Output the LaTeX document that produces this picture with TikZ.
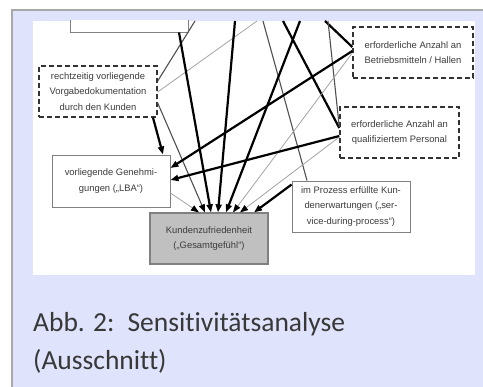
\documentclass[tikz,border=0pt]{standalone}
\usepackage{fontspec}
\setmainfont{Carlito}[Ligatures={NoCommon}]
\newfontfamily\arialf{Liberation Sans}
\usetikzlibrary{arrows.meta}
\definecolor{lav}{HTML}{DFE3FB}
\definecolor{framegray}{HTML}{A8A8A8}
\definecolor{bordergray}{HTML}{808080}
\definecolor{dashcol}{HTML}{333333}
\definecolor{keygray}{HTML}{C0C0C0}
\definecolor{txt}{HTML}{3C3C3C}
\definecolor{captxt}{HTML}{383838}
\definecolor{midgray}{HTML}{505050}
\definecolor{lightgray2}{HTML}{A4A4A4}
\begin{document}
\begin{tikzpicture}[x=1pt,y=-1pt,
  boxbase/.style={rectangle, minimum width=118pt, minimum height=51pt, inner sep=0pt, align=center, font=\arialf\fontsize{9.4}{15.2}\selectfont, text=txt},
  solidbox/.style={boxbase, draw=bordergray, line width=0.9pt, fill=white},
  dashbox/.style={boxbase, draw=dashcol, line width=1.4pt, dash pattern=on 5pt off 3pt, fill=white},
  keybox/.style={boxbase, draw=bordergray, line width=1.2pt, fill=keygray},
  heavy/.style={line width=2.2pt, draw=black},
  mid/.style={line width=1.1pt, draw=midgray},
  faint/.style={line width=0.8pt, draw=lightgray2},
  tip/.style={-{Triangle[length=8pt,width=6pt,color=black]}},
  captext/.style={anchor=base west, inner sep=0pt, font=\fontsize{27.5}{36}\selectfont, text=captxt}
]
\useasboundingbox (0,0) rectangle (483,387);
% frame
\fill[white] (0,0) rectangle (483,387);
\fill[lav] (12,10) rectangle (483,387);
\draw[framegray, line width=1.5pt] (12,387) -- (12,10) -- (483,10);
\fill[white] (33,21) rectangle (475,275);

\begin{scope}
\clip (33,21) rectangle (475,275);
% boxes
\node[solidbox, minimum height=40pt] (T) at (129,12) {};
\node[dashbox] (R) at (98,91.5) {rechtzeitig vorliegende\\Vorgabedokumentation\\durch den Kunden};
\node[dashbox, minimum width=120pt] (B) at (413,52.5) {erforderliche Anzahl an\\Betriebsmitteln / Hallen};
\node[dashbox, minimum width=119pt] (P) at (399.5,132.5) {erforderliche Anzahl an\\qualifiziertem Personal};
\node[solidbox, minimum height=52pt] (G) at (111,181) {vorliegende Genehmi-\\gungen („LBA“)};
\node[solidbox] (S) at (351,206.5) {im Prozess erfüllte Kun-\\denerwartungen („ser-\\vice-during-process“)};
\node[keybox] (K) at (209,238.5) {Kundenzufriedenheit\\(„Gesamtgefühl“)};

% free ends at the cropped top edge
\coordinate (ta) at (195,21);
\coordinate (tc) at (235,21);
\coordinate (td) at (257,21);
\coordinate (te) at (263,21);
\coordinate (tf) at (283,21);
\coordinate (tg) at (300,21);
\coordinate (th) at (325,21);
\coordinate (ti) at (328,21);

% connectors
\draw[mid] (ta) -- ([yshift=10.5pt]R.east);
\draw[faint] (td) -- ([yshift=-0.5pt]R.east);
\draw[mid] (te) -- ([xshift=-44pt]S.north);
\draw[heavy] (th) -- ([yshift=5.5pt]B.west);
\draw[heavy] (tf) -- ([yshift=4.5pt]P.west);
\draw[mid] (ti) -- ([yshift=5.5pt]P.west);

\draw[faint,tip] ([yshift=-12pt]G.east) -- ([xshift=-10pt]K.north);
\draw[mid,tip] ([yshift=-11.5pt]R.east) -- ([xshift=-4pt]K.north);
\draw[heavy,tip] ([xshift=50pt]T.south) -- ([xshift=2pt]K.north);
\draw[heavy,tip] (tc) -- ([xshift=9pt]K.north);
\draw[heavy,tip] (tg) -- ([xshift=17pt]K.north);
\draw[faint,tip] ([yshift=-0.5pt]B.west) -- ([xshift=24pt]K.north);
\draw[faint,tip] ([yshift=-4.5pt]P.west) -- ([xshift=31pt]K.north);
\draw[heavy,tip] ([yshift=-4pt]S.north west) -- ([xshift=45pt]K.north);

\draw[heavy,tip] ([xshift=55pt]R.south) -- ([xshift=52pt]G.north);
\draw[heavy,tip] ([yshift=1.5pt]B.west) -- ([yshift=13pt]G.east);
\draw[heavy,tip] ([yshift=-3.5pt]P.west) -- ([yshift=1pt]G.east);
\end{scope}

% caption
\node[captext] (cap1) at (33,332) {Abb. 2:\hspace{13pt}Sensitivitätsanalyse};
\node[captext] (cap2) at (33,370) {(Ausschnitt)};
\end{tikzpicture}
\end{document}
